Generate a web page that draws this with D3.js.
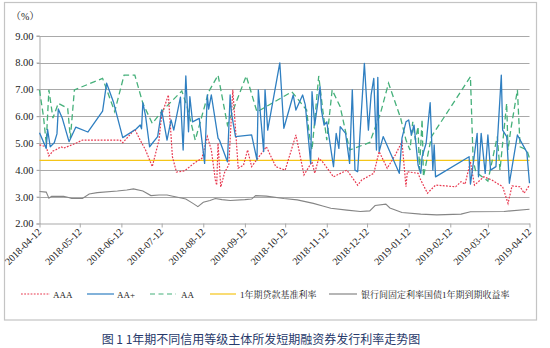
<!DOCTYPE html>
<html>
<head>
<meta charset="utf-8">
<script src="https://cdn.jsdelivr.net/npm/d3@7/dist/d3.min.js"></script>
<style>
  body { margin: 0; background: #fff; }
</style>
</head>
<body>
<svg id="chart" width="550" height="348"></svg>
<script>
// Issue rates of 1-year short-term financing bills by issuer rating (%)
const aaa = [
  ["2018-04-12",4.93],["2018-04-17",4.86],["2018-04-19",4.52],["2018-04-22",4.70],["2018-04-24",4.74],
  ["2018-04-28",4.86],["2018-04-30",4.81],["2018-05-04",4.89],["2018-05-09",4.99],["2018-05-14",5.11],
  ["2018-05-22",5.11],["2018-06-11",5.11],["2018-06-13",5.01],["2018-06-22",5.51],["2018-06-26",5.11],
  ["2018-06-30",4.74],["2018-07-05",4.12],["2018-07-10",5.11],["2018-07-12",6.04],["2018-07-17",6.79],
  ["2018-07-20",4.49],["2018-07-23",3.92],["2018-07-29",3.96],["2018-08-05",4.24],["2018-08-11",4.43],
  ["2018-08-15",5.24],["2018-08-18",4.74],["2018-08-21",3.62],["2018-08-22",3.43],["2018-08-23",4.99],
  ["2018-08-25",3.36],["2018-08-28",3.92],["2018-08-31",4.18],["2018-09-03",6.98],["2018-09-07",4.06],
  ["2018-09-11",4.18],["2018-09-14",4.74],["2018-09-17",4.12],["2018-09-28",4.86],["2018-10-05",4.12],
  ["2018-10-12",3.99],["2018-10-20",5.30],["2018-10-26",3.81],["2018-11-01",4.30],["2018-11-03",3.87],
  ["2018-11-06",4.43],["2018-11-09",4.29],["2018-11-17",3.74],["2018-11-27",3.99],["2018-12-05",3.43],
  ["2018-12-08",3.62],["2018-12-17",3.87],["2018-12-21",4.68],["2018-12-27",4.06],["2019-01-02",4.55],
  ["2019-01-07",5.05],["2019-01-10",3.37],["2019-01-11",3.93],["2019-01-19",3.87],["2019-01-21",3.62],
  ["2019-01-26",3.13],["2019-02-01",3.43],["2019-02-16",3.37],["2019-02-20",3.56],["2019-02-23",3.47],
  ["2019-02-27",4.30],["2019-03-02",3.43],["2019-03-09",3.74],["2019-03-15",3.62],["2019-03-23",3.37],
  ["2019-03-27",2.75],["2019-03-30",3.40],["2019-04-05",3.37],["2019-04-08",3.13],["2019-04-12",3.43]
];

const aaPlus = [
  ["2018-04-12",5.38],["2018-04-17",4.80],["2018-04-18",5.51],["2018-04-20",4.86],["2018-04-23",5.01],
  ["2018-04-25",5.34],["2018-04-26",6.27],["2018-04-29",5.92],["2018-05-04",5.05],["2018-05-09",5.59],
  ["2018-05-18",5.41],["2018-05-29",6.19],["2018-06-01",7.23],["2018-06-06",6.54],["2018-06-13",5.20],
  ["2018-06-23",5.52],["2018-06-26",5.67],["2018-06-27",5.53],["2018-06-28",6.50],["2018-06-30",6.01],
  ["2018-07-03",4.86],["2018-07-09",5.24],["2018-07-12",6.23],["2018-07-16",5.11],["2018-07-19",5.86],
  ["2018-07-21",5.48],["2018-07-26",6.71],["2018-07-28",4.74],["2018-07-30",7.50],["2018-08-01",5.42],
  ["2018-08-02",6.73],["2018-08-04",5.79],["2018-08-09",5.92],["2018-08-13",4.24],["2018-08-15",6.79],
  ["2018-08-16",6.26],["2018-08-18",6.79],["2018-08-23",5.18],["2018-08-24",5.11],["2018-08-30",4.30],
  ["2018-09-01",6.79],["2018-09-02",6.11],["2018-09-05",5.24],["2018-09-17",5.30],["2018-09-21",4.37],
  ["2018-09-22",6.98],["2018-09-26",4.68],["2018-09-27",6.98],["2018-09-29",5.48],["2018-10-08",7.99],
  ["2018-10-11",5.55],["2018-10-18",6.79],["2018-10-20",6.23],["2018-10-25",6.79],["2018-10-27",6.42],
  ["2018-10-31",4.24],["2018-11-01",6.91],["2018-11-03",5.67],["2018-11-07",7.10],["2018-11-08",6.23],
  ["2018-11-10",5.67],["2018-11-12",5.79],["2018-11-17",4.12],["2018-11-19",5.36],["2018-11-21",4.80],
  ["2018-11-22",5.61],["2018-11-26",5.36],["2018-11-29",4.24],["2018-12-01",6.98],["2018-12-03",3.99],
  ["2018-12-05",3.93],["2018-12-10",7.97],["2018-12-13",5.48],["2018-12-15",6.79],["2018-12-17",7.41],
  ["2018-12-19",4.74],["2018-12-20",7.45],["2018-12-21",4.68],["2018-12-24",5.24],["2019-01-05",3.87],
  ["2019-01-07",5.18],["2019-01-10",5.79],["2019-01-12",5.86],["2019-01-14",5.30],["2019-01-16",5.67],
  ["2019-01-19",4.18],["2019-01-21",3.87],["2019-01-22",4.49],["2019-01-25",4.99],["2019-01-28",6.50],
  ["2019-01-30",3.99],["2019-01-31",4.93],["2019-02-01",3.74],["2019-02-26",4.49],["2019-02-27",3.47],
  ["2019-02-28",3.81],["2019-03-04",5.36],["2019-03-05",3.74],["2019-03-07",5.36],["2019-03-10",3.87],
  ["2019-03-12",5.30],["2019-03-14",3.99],["2019-03-18",4.12],["2019-03-22",7.53],["2019-03-23",5.48],
  ["2019-03-26",5.24],["2019-03-28",3.50],["2019-04-03",5.30],["2019-04-10",4.66],["2019-04-12",3.50]
];

const aa = [
  ["2018-04-12",6.98],["2018-04-15",5.97],["2018-04-17",5.00],["2018-04-19",6.98],["2018-04-22",5.93],
  ["2018-04-26",6.48],["2018-05-03",6.29],["2018-05-05",5.19],["2018-05-08",6.98],["2018-05-29",7.41],
  ["2018-06-07",6.17],["2018-06-14",7.53],["2018-06-22",7.53],["2018-06-28",6.48],["2018-07-05",5.73],
  ["2018-07-13",6.23],["2018-07-27",6.94],["2018-07-31",6.35],["2018-08-06",5.11],["2018-08-16",6.91],
  ["2018-08-23",7.53],["2018-08-30",5.67],["2018-09-13",7.50],["2018-09-21",6.16],["2018-10-17",6.91],
  ["2018-10-28",6.23],["2018-10-30",5.30],["2018-11-01",4.74],["2018-11-06",7.50],["2018-11-09",6.23],
  ["2018-11-12",5.11],["2018-11-16",6.98],["2018-11-22",6.35],["2018-11-29",4.74],["2018-12-14",5.02],
  ["2018-12-22",6.11],["2018-12-28",7.23],["2019-01-06",5.93],["2019-01-10",5.11],["2019-01-13",4.74],
  ["2019-01-15",5.79],["2019-01-17",5.11],["2019-01-19",5.61],["2019-01-20",3.99],["2019-01-22",5.88],
  ["2019-01-23",3.74],["2019-01-29",5.24],["2019-02-27",7.47],["2019-03-01",4.37],["2019-03-03",3.92],
  ["2019-03-12",3.58],["2019-03-19",5.24],["2019-03-21",3.99],["2019-03-26",6.48],["2019-03-27",4.74],
  ["2019-03-29",5.48],["2019-04-03",6.98],["2019-04-05",4.86],["2019-04-10",4.74],["2019-04-12",4.43]
];

// 1-year benchmark lending rate
const loanRate = 4.35;

// Interbank fixed-rate treasury, 1-year yield to maturity
const bondYield = [
  ["2018-04-12",3.19],["2018-04-17",3.17],["2018-04-19",2.94],["2018-04-21",3.01],["2018-04-30",3.01],
  ["2018-05-03",2.98],["2018-05-06",2.93],["2018-05-14",2.93],["2018-05-19",3.10],["2018-05-25",3.15],
  ["2018-06-09",3.21],["2018-06-16",3.25],["2018-06-21",3.29],["2018-06-28",3.21],["2018-07-04",3.04],
  ["2018-07-10",3.06],["2018-07-16",3.06],["2018-07-23",2.99],["2018-07-30",2.91],["2018-08-04",2.76],
  ["2018-08-08",2.63],["2018-08-12",2.79],["2018-08-17",2.86],["2018-08-21",2.93],["2018-08-26",2.89],
  ["2018-09-01",2.86],["2018-09-12",2.89],["2018-09-17",2.91],["2018-09-20",3.04],["2018-09-28",3.02],
  ["2018-10-11",2.93],["2018-10-21",2.88],["2018-11-02",2.75],["2018-11-09",2.65],["2018-11-15",2.57],
  ["2018-11-27",2.50],["2018-12-07",2.45],["2018-12-14",2.47],["2018-12-18",2.67],["2018-12-26",2.72],
  ["2018-12-29",2.58],["2019-01-07",2.41],["2019-01-21",2.35],["2019-02-02",2.32],["2019-02-20",2.35],
  ["2019-02-27",2.44],["2019-03-24",2.45],["2019-04-12",2.53]
];

const tickDates = [
  "2018-04-12","2018-05-12","2018-06-12","2018-07-12","2018-08-12","2018-09-12","2018-10-12",
  "2018-11-12","2018-12-12","2019-01-12","2019-02-12","2019-03-12","2019-04-12"
];
const yTicks = [2, 3, 4, 5, 6, 7, 8, 9];
const legendNames = ["AAA", "AA+", "AA", "1年期贷款基准利率", "银行间固定利率国债1年期到期收益率"];
const titleText = "图 1  1年期不同信用等级主体所发短期融资券发行利率走势图";

const SERIF = "'Liberation Serif', 'Noto Serif CJK SC', 'Noto Sans CJK SC', serif";

const parse = d3.timeParse("%Y-%m-%d");
const svg = d3.select("#chart");

const x = d3.scaleTime()
  .domain([parse(tickDates[0]), parse(tickDates[tickDates.length - 1])])
  .range([39.5, 529.5]);
const y = d3.scaleLinear().domain([2, 9]).range([223.5, 35.7]);

// outer frame
svg.append("rect")
  .attr("x", 4.5).attr("y", 2.5).attr("width", 532).attr("height", 317.5)
  .attr("fill", "#fff").attr("stroke", "#c4c4c4").attr("stroke-width", 1.2);

// horizontal grid
svg.append("g").selectAll("line")
  .data(yTicks.filter(v => v > 2))
  .join("line")
  .attr("x1", 37).attr("x2", 529.5)
  .attr("y1", d => Math.round(y(d)) + 0.5).attr("y2", d => Math.round(y(d)) + 0.5)
  .attr("stroke", "#a9a9a9").attr("stroke-width", 1);

// y axis
const yAxis = svg.append("g")
  .attr("transform", "translate(39.5,0)")
  .attr("font-family", SERIF)
  .call(d3.axisLeft(y).tickValues(yTicks).tickFormat(d3.format(".2f")).tickSize(3).tickPadding(3));
yAxis.attr("font-family", SERIF);
yAxis.select(".domain").attr("stroke", "#a9a9a9");
yAxis.selectAll(".tick line").attr("stroke", "#a9a9a9");
yAxis.selectAll("text").attr("font-size", 10.5).attr("fill", "#222");

svg.append("text").attr("x", 11).attr("y", 20)
  .attr("font-family", SERIF)
  .attr("font-size", 10).attr("fill", "#222").text("（%）");

// x axis
const xAxis = svg.append("g")
  .attr("transform", `translate(0,${y(2)})`)
  .call(d3.axisBottom(x).tickValues(tickDates.map(parse))
    .tickFormat(d3.timeFormat("%Y-%m-%d")).tickSize(4).tickSizeOuter(0));
xAxis.attr("font-family", SERIF);
xAxis.select(".domain").attr("stroke", "#a9a9a9");
xAxis.selectAll(".tick line").attr("stroke", "#a9a9a9");
xAxis.selectAll("text")
  .attr("font-size", 10).attr("fill", "#222")
  .attr("text-anchor", "end")
  .attr("dy", null).attr("y", 0)
  .attr("transform", "translate(2,9) rotate(-45)");

const line = d3.line()
  .x(d => x(parse(d[0])))
  .y(d => y(d[1]));

// benchmark lending rate
svg.append("line")
  .attr("x1", x.range()[0]).attr("x2", x.range()[1])
  .attr("y1", y(loanRate)).attr("y2", y(loanRate))
  .attr("stroke", "#f5c518").attr("stroke-width", 1.3);

// treasury yield
svg.append("path").datum(bondYield).attr("d", line)
  .attr("fill", "none").attr("stroke", "#858585").attr("stroke-width", 1.1);

// AA
svg.append("path").datum(aa).attr("d", line)
  .attr("fill", "none").attr("stroke", "#45b07a").attr("stroke-width", 1.3)
  .attr("stroke-dasharray", "6,3.5");

// AAA
svg.append("path").datum(aaa).attr("d", line)
  .attr("fill", "none").attr("stroke", "#e8384f").attr("stroke-width", 1.2)
  .attr("stroke-dasharray", "1.8,1.4");

// AA+
svg.append("path").datum(aaPlus).attr("d", line)
  .attr("fill", "none").attr("stroke", "#2f7fc1").attr("stroke-width", 1.3)
  .attr("stroke-linejoin", "round");

// legend
const legendStyles = [
  { stroke: "#e8384f", dash: "1.8,1.4", x0: 21, x1: 50, tx: 53 },
  { stroke: "#2f7fc1", dash: null, x0: 87, x1: 114, tx: 117 },
  { stroke: "#45b07a", dash: "5,3.5", x0: 150, x1: 176, tx: 181 },
  { stroke: "#f5c518", dash: null, x0: 210, x1: 236, tx: 240 },
  { stroke: "#858585", dash: null, x0: 329, x1: 357, tx: 361 }
];
const legend = svg.append("g").attr("font-family", SERIF);
legendNames.forEach((name, i) => {
  const s = legendStyles[i];
  legend.append("line")
    .attr("x1", s.x0).attr("x2", s.x1).attr("y1", 294).attr("y2", 294)
    .attr("stroke", s.stroke).attr("stroke-width", 1.2)
    .attr("stroke-dasharray", s.dash);
  legend.append("text")
    .attr("x", s.tx).attr("y", 297.5)
    .attr("font-size", 9).attr("fill", "#222")
    .text(name);
});

// caption
svg.append("text")
  .attr("x", 261).attr("y", 344)
  .attr("text-anchor", "middle")
  .attr("font-size", 12)
  .attr("fill", "#27396a")
  .attr("font-family", "'Noto Sans CJK SC', sans-serif")
  .text(titleText);
</script>
</body>
</html>
